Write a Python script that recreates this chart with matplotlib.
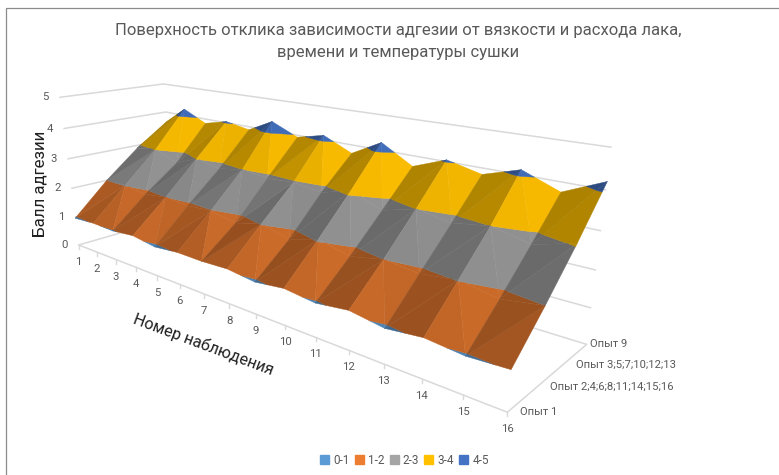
import numpy as np
import matplotlib
matplotlib.use('Agg')
import matplotlib.pyplot as plt
from matplotlib.collections import PolyCollection
from matplotlib.colors import to_rgb
from matplotlib.patches import Patch

observations = list(range(1, 17))
series_labels = ['Опыт 1', 'Опыт 2;4;6;8;11;14;15;16',
                 'Опыт 3;5;7;10;12;13', 'Опыт 9']

opyt_1 = [0.96, 1.01, 0.98, 1.06, 0.94, 1.02, 1.01, 1.05,
          0.95, 1.06, 0.96, 1.08, 0.94, 1.05, 0.96, 1.02]
opyt_2 = [2.00, 2.02, 1.90, 2.00, 1.93, 1.98, 1.82, 2.02,
          1.80, 2.05, 1.82, 2.00, 1.90, 2.02, 1.85, 2.00]
opyt_3 = [2.90, 3.02, 2.70, 3.02, 2.85, 3.00, 2.90, 2.96,
          2.85, 3.10, 2.75, 3.00, 2.85, 3.00, 2.78, 3.05]
opyt_9 = [3.65, 4.22, 3.85, 4.04, 3.90, 4.30, 3.94, 4.14,
          3.75, 4.22, 3.70, 4.05, 3.83, 4.13, 3.75, 4.20]

z_ticks = [0, 1, 2, 3, 4, 5]
band_labels = ['0-1', '1-2', '2-3', '3-4', '4-5']
band_colors = ['#5B9BD5', '#ED7D31', '#A5A5A5', '#FFC000', '#4472C4']
band_gain = [0.95, 0.93, 0.95, 1.03, 1.0]

GRID = '#D9D9D9'
TEXT = '#595959'
plt.rcParams['font.family'] = ['Roboto', 'DejaVu Sans']


def camera_matrix():
    # perspective camera solved from where the box corners land on the canvas
    world = [(0, 0, 0), (15, 0, 0), (15, 3, 0), (15, 3, 5), (0, 0, 5), (0, 3, 5)]
    canvas = [(78.7, 245), (507.3, 412.3), (586.7, 344.3),
              (611.7, 147.3), (59.3, 97.3), (163.3, 84)]
    rows = []
    for (x, y, z), (u, v) in zip(world, canvas):
        rows.append([x, y, z, 1, 0, 0, 0, 0, -u * x, -u * y, -u * z, -u])
        rows.append([0, 0, 0, 0, x, y, z, 1, -v * x, -v * y, -v * z, -v])
    return np.linalg.svd(np.array(rows))[2][-1].reshape(3, 4)


CAMERA = camera_matrix()


def project(points):
    pts = np.atleast_2d(np.asarray(points, dtype=float))
    out = CAMERA @ np.column_stack([pts, np.ones(len(pts))]).T
    return (out[:2] / out[2]).T


def clip_z(poly, level, keep_above):
    result = []
    for i, a in enumerate(poly):
        b = poly[(i + 1) % len(poly)]
        a_in = a[2] >= level if keep_above else a[2] <= level
        b_in = b[2] >= level if keep_above else b[2] <= level
        if a_in:
            result.append(a)
        if a_in != b_in:
            t = (level - a[2]) / (b[2] - a[2])
            result.append(tuple(a[k] + t * (b[k] - a[k]) for k in range(3)))
    return result


def shade(tri):
    # facets rising along the observation axis turn away from the light
    (x0, y0, z0), (x1, y1, z1), (x2, y2, z2) = tri
    det = (x1 - x0) * (y2 - y0) - (x2 - x0) * (y1 - y0)
    slope = ((z1 - z0) * (y2 - y0) - (z2 - z0) * (y1 - y0)) / det
    return 0.80 - 0.10 * np.tanh(slope / 0.1) - 0.10 * slope


def surface_facets(table):
    verts, colors = [], []
    n_series, n_obs = table.shape
    for j in range(n_series - 2, -1, -1):
        for i in range(n_obs - 1):
            a = (i, j, table[j, i])
            b = (i + 1, j, table[j, i + 1])
            c = (i + 1, j + 1, table[j + 1, i + 1])
            d = (i, j + 1, table[j + 1, i])
            # split each cell along its steeper diagonal
            if abs(c[2] - a[2]) >= abs(d[2] - b[2]):
                tris = [(a, b, c), (a, c, d)]
            else:
                tris = [(a, b, d), (b, c, d)]
            for tri in tris:
                factor = shade(tri)
                for k, color in enumerate(band_colors):
                    piece = clip_z(list(tri), k, True)
                    if piece:
                        piece = clip_z(piece, k + 1, False)
                    if len(piece) >= 3:
                        verts.append(project(piece))
                        colors.append(tuple(min(1, c_ * factor * band_gain[k])
                                            for c_ in to_rgb(color)))
    return verts, colors


fig = plt.figure(figsize=(7.79, 4.75), dpi=100)
ax = fig.add_axes([0, 0, 1, 1])
ax.set_xlim(0, 779)
ax.set_ylim(475, 0)
ax.axis('off')

# window edges
ax.plot([6.5, 6.5, 779], [475, 7.5, 7.5], color='#8C8C8C', lw=0.9)

last_x = len(observations) - 1
last_s = len(series_labels) - 1

# walls and floor
for z in z_ticks:
    line = project([(0, 0, z), (0, last_s, z), (last_x, last_s, z)])
    ax.plot(line[:, 0], line[:, 1], color=GRID, lw=1.1, solid_capstyle='butt')
floor = project([(0, 0, 0), (last_x, 0, 0), (last_x, last_s, 0)])
ax.plot(floor[:, 0], floor[:, 1], color=GRID, lw=1.1)

table = np.array([opyt_1, opyt_2, opyt_3, opyt_9])
verts, colors = surface_facets(table)
ax.add_collection(PolyCollection(verts, facecolors=colors, edgecolors=colors,
                                 linewidths=0.3, zorder=3))

# axis ticks and labels
for i, label in enumerate(observations):
    u, v = project((i, 0, 0))[0]
    ax.plot([u, u], [v, v + 4], color=GRID, lw=1)
    ax.text(u, v + 17, str(label), ha='center', va='center', fontsize=8.2, color=TEXT)

for z in z_ticks:
    u, v = project((0, 0, z))[0]
    ax.text(u - 14, v, str(z), ha='center', va='center', fontsize=8.2, color=TEXT)

series_pad = [13, 13, 13, 3]
for j, label in enumerate(series_labels):
    u, v = project((last_x, j, 0))[0]
    ax.text(u + series_pad[j], v, label, ha='left', va='center', fontsize=8.1, color=TEXT)

ax.text(398, 41.5, 'Поверхность отклика зависимости адгезии от вязкости и расхода лака,\n'
        'времени и температуры сушки', ha='center', va='center', fontsize=12,
        color=TEXT, linespacing=1.6)
ax.text(40, 184, 'Балл адгезии', rotation=90, ha='center', va='center',
        fontsize=12.2, color='#1F1F1F')
ax.text(203, 345, 'Номер наблюдения', rotation=-20.5, ha='center', va='center',
        fontsize=11.5, color='#1F1F1F', rotation_mode='anchor')

handles = [Patch(color=c, label=l) for c, l in zip(band_colors, band_labels)]
fig.legend(handles=handles, ncol=5, frameon=False, loc='center',
           bbox_to_anchor=(404.5 / 779, 1 - 460 / 475), fontsize=8.5,
           handlelength=0.75, handleheight=0.75, handletextpad=0.35,
           columnspacing=0.45, labelcolor=TEXT)

fig.savefig('out.png', dpi=100)
